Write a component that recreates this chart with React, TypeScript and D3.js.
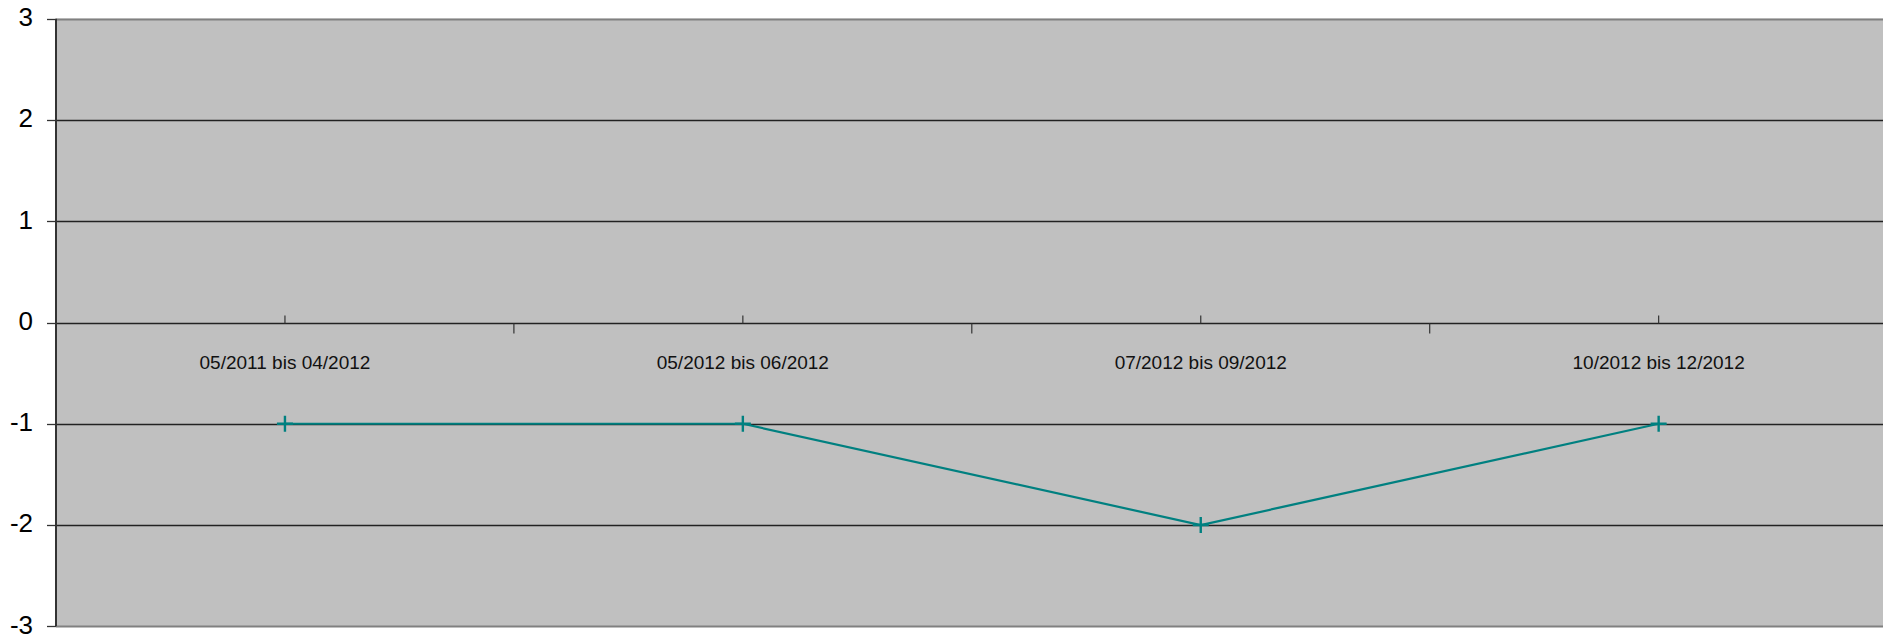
import { useEffect, useRef } from "react";
import * as d3 from "d3";

const categories = [
  "05/2011 bis 04/2012",
  "05/2012 bis 06/2012",
  "07/2012 bis 09/2012",
  "10/2012 bis 12/2012",
];
const values = [-1, -1, -2, -1];
const yTicks = [3, 2, 1, 0, -1, -2, -3];

export default function App() {
  const svgRef = useRef<SVGSVGElement>(null);

  useEffect(() => {
    const svg = svgRef.current;
    if (!svg) return;
    d3.select(svg).selectAll("*").remove();

    const width = 1883;
    const height = 637;
    const left = 56;
    const bandW = 457.9;
    const top = 18.7;
    const bottom = 626.3;

    const x = d3
      .scaleBand<string>()
      .domain(categories)
      .range([left, left + bandW * categories.length])
      .paddingInner(0)
      .paddingOuter(0);
    const y = d3.scaleLinear().domain([-3, 3]).range([bottom, top]);

    const root = d3.select(svg).attr("width", width).attr("height", height);

    // plot background
    root
      .append("rect")
      .attr("x", left)
      .attr("y", y(3))
      .attr("width", bandW * categories.length)
      .attr("height", y(-3) - y(3))
      .attr("fill", "#c0c0c0");

    // horizontal gridlines
    root
      .append("g")
      .selectAll("line")
      .data(yTicks)
      .enter()
      .append("line")
      .attr("x1", left)
      .attr("x2", left + bandW * categories.length)
      .attr("y1", (d) => Math.round(y(d)) + 0.5)
      .attr("y2", (d) => Math.round(y(d)) + 0.5)
      .attr("stroke", (d) => (d === 3 || d === -3 ? "#808080" : "#222"))
      .attr("stroke-width", (d) => (d === 3 || d === -3 ? 2 : 1.3));

    // y axis line + ticks
    root
      .append("line")
      .attr("x1", left)
      .attr("x2", left)
      .attr("y1", y(3))
      .attr("y2", y(-3))
      .attr("stroke", "#333")
      .attr("stroke-width", 2);

    const yAxis = root.append("g");
    yAxis
      .selectAll("line")
      .data(yTicks)
      .enter()
      .append("line")
      .attr("x1", left - 9)
      .attr("x2", left)
      .attr("y1", (d) => Math.round(y(d)) + 0.5)
      .attr("y2", (d) => Math.round(y(d)) + 0.5)
      .attr("stroke", "#333")
      .attr("stroke-width", 1.3);
    yAxis
      .selectAll("text")
      .data(yTicks)
      .enter()
      .append("text")
      .attr("x", 33)
      .attr("y", (d) => y(d))
      .attr("dy", "0.28em")
      .attr("text-anchor", "end")
      .attr("font-family", "Liberation Sans, Arial, sans-serif")
      .attr("font-size", 26)
      .attr("fill", "#000")
      .text((d) => String(d));

    // category ticks on zero line
    const y0 = Math.round(y(0)) + 0.5;
    const xAxis = root.append("g");
    xAxis
      .selectAll("line.center")
      .data(categories)
      .enter()
      .append("line")
      .attr("class", "center")
      .attr("x1", (d) => (x(d) ?? 0) + x.bandwidth() / 2)
      .attr("x2", (d) => (x(d) ?? 0) + x.bandwidth() / 2)
      .attr("y1", y0 - 8)
      .attr("y2", y0)
      .attr("stroke", "#333")
      .attr("stroke-width", 1.2);
    xAxis
      .selectAll("line.bound")
      .data(categories.slice(1))
      .enter()
      .append("line")
      .attr("class", "bound")
      .attr("x1", (d) => x(d) ?? 0)
      .attr("x2", (d) => x(d) ?? 0)
      .attr("y1", y0)
      .attr("y2", y0 + 10)
      .attr("stroke", "#333")
      .attr("stroke-width", 1.2);
    xAxis
      .selectAll("text")
      .data(categories)
      .enter()
      .append("text")
      .attr("x", (d) => (x(d) ?? 0) + x.bandwidth() / 2)
      .attr("y", 369)
      .attr("text-anchor", "middle")
      .attr("font-family", "Liberation Sans, Arial, sans-serif")
      .attr("font-size", 19)
      .attr("fill", "#111")
      .text((d) => d);

    // series line
    const pts = categories.map((c, i) => ({ c, v: values[i] }));
    const line = d3
      .line<{ c: string; v: number }>()
      .x((d) => (x(d.c) ?? 0) + x.bandwidth() / 2)
      .y((d) => y(d.v));
    root
      .append("path")
      .datum(pts)
      .attr("d", line)
      .attr("fill", "none")
      .attr("stroke", "#008080")
      .attr("stroke-width", 2.2);

    // plus markers
    const m = 8;
    const markers = root
      .append("g")
      .selectAll("g")
      .data(pts)
      .enter()
      .append("g")
      .attr(
        "transform",
        (d) => `translate(${(x(d.c) ?? 0) + x.bandwidth() / 2},${y(d.v)})`
      );
    markers
      .append("path")
      .attr("d", `M${-m},0H${m}M0,${-m}V${m}`)
      .attr("stroke", "#008080")
      .attr("stroke-width", 2.4)
      .attr("fill", "none");
  }, []);

  return (
    <svg
      ref={svgRef}
      style={{ position: "absolute", left: 0, top: 0, display: "block", background: "#fff" }}
    />
  );
}
